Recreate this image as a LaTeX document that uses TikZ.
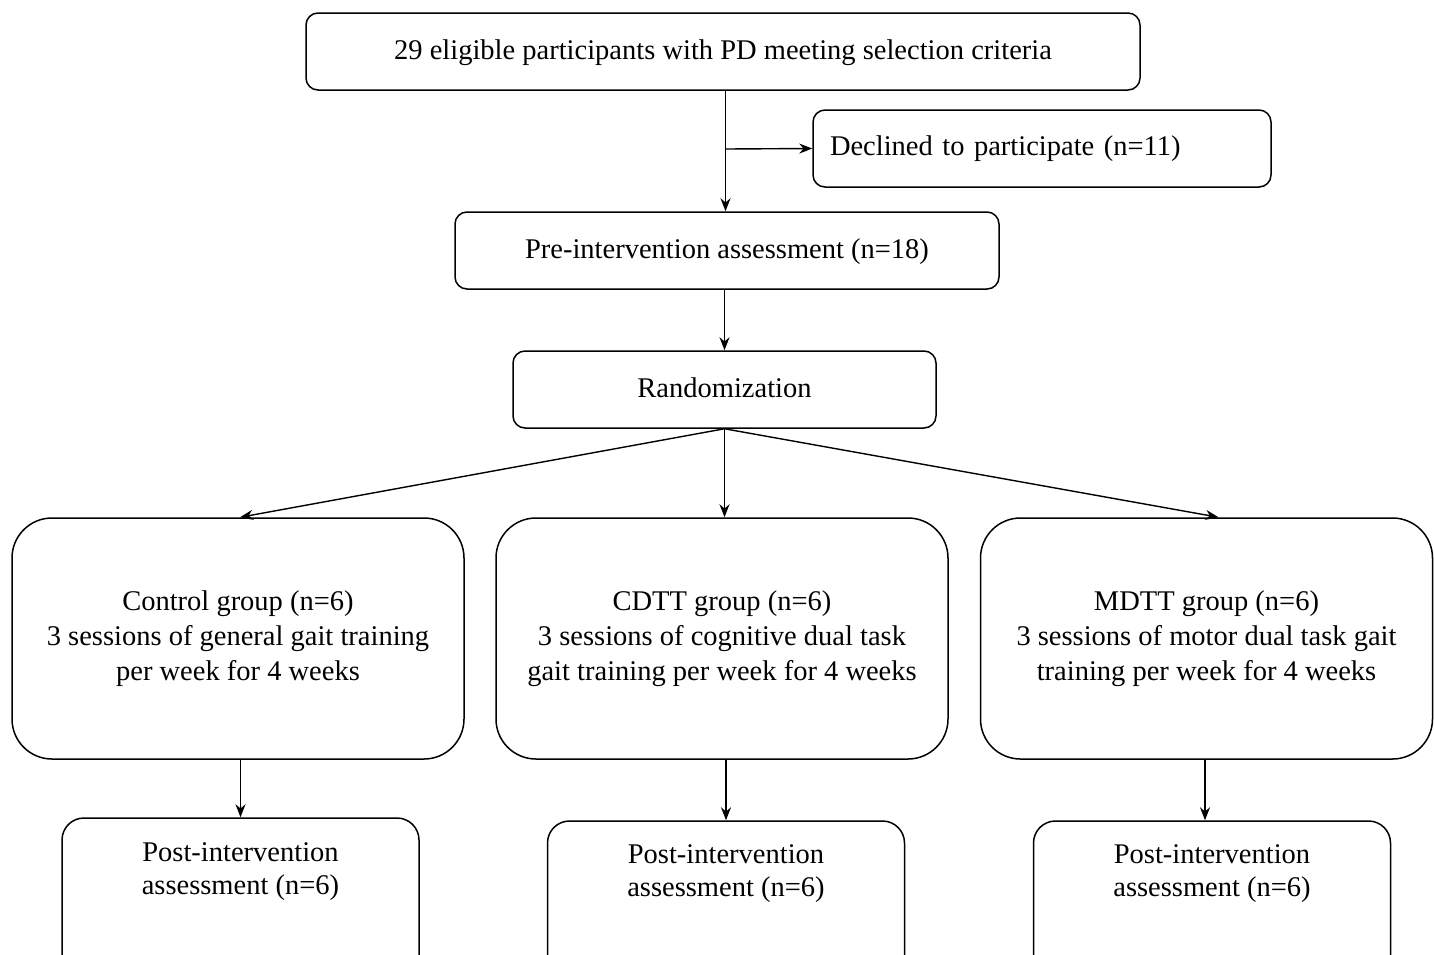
\documentclass[tikz,border=0pt]{standalone}
\usepackage{fontspec}
\setmainfont{Liberation Serif}
\usetikzlibrary{arrows.meta,positioning,calc}
\tikzset{ % Standard box and line style
    block/.style={rectangle, draw, rounded corners=12pt, line width=1.5pt, text centered, minimum height=77pt, inner sep=0pt, font=\fontsize{28.5}{35}\selectfont},
    group/.style={block, rounded corners=40pt, minimum width=452pt, minimum height=241pt, align=center},
    post/.style={block, rounded corners=22pt, minimum width=357pt, minimum height=170pt},
    txt/.style={align=center, inner sep=0pt, font=\fontsize{28.5}{33}\selectfont},
    line/.style={draw, line width=1.4pt, -{Stealth[length=13pt,width=10pt]}}
}
\begin{document}
\begin{tikzpicture}[x=1pt, y=-1pt]
	\useasboundingbox (0,0) rectangle (1434,954);
	%Nodes
	\node[block, minimum width=834pt, text depth=3pt] (elig) at (723,51.5) {29 eligible participants with PD meeting selection criteria};
	\node[block, minimum width=458pt, text width=424pt, align=left] (decl) at (1042,148.5) {Declined to participate (n=11)};
	\node[block, minimum width=544pt, text depth=3pt] (pre) at (727,250.5) {Pre-intervention assessment (n=18)};
	\node[block, minimum width=423pt, text depth=3pt] (rand) at (724.5,389.5) {Randomization};
	\node[group] (ctrl) at (238,638.5) {Control group (n=6)\\3 sessions of general gait training\\per week for 4 weeks};
	\node[group] (cdtt) at (722,638.5) {CDTT group (n=6)\\3 sessions of cognitive dual task\\gait training per week for 4 weeks};
	\node[group] (mdtt) at (1206.5,638.5) {MDTT group (n=6)\\3 sessions of motor dual task gait\\training per week for 4 weeks};
	\node[post] (postA) at (240.5,903) {};
	\node[post] (postB) at (726,906) {};
	\node[post] (postC) at (1212,906) {};
	\node[txt] (postAtxt) at (240.5,872) {Post-intervention\\assessment (n=6)};
	\node[txt] (postBtxt) at (726,874) {Post-intervention\\assessment (n=6)};
	\node[txt] (postCtxt) at (1212,874) {Post-intervention\\assessment (n=6)};
	\coordinate (split) at (725.5,149);
	\coordinate (mdttOut) at ($(mdtt.south)+(-1.5,0)$);
	%Edges
	\draw [line] (elig.south -| split) -- (split |- pre.north);
	\draw [line] (split) -- (decl.west);
	\draw [line] (pre.south -| rand.north) -- (rand.north);
	\draw [line] (rand.south) -- ($(ctrl.north)+(2,0)$);
	\draw [line] (rand.south) -- (cdtt.north -| rand.south);
	\draw [line] (rand.south) -- ($(mdtt.north)+(12,0)$);
	\draw [line] (ctrl.south -| postA.north) -- (postA.north);
	\draw [line] (cdtt.south -| postB.north) -- (postB.north);
	\draw [line] (mdttOut) -- (mdttOut |- postC.north);
\end{tikzpicture}
\end{document}
